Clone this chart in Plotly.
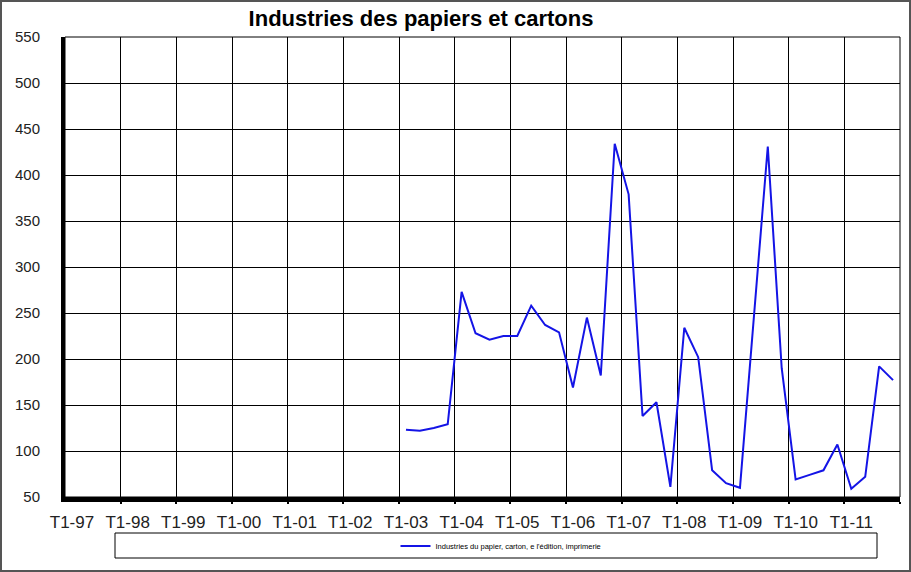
import plotly.graph_objects as go

# Quarter categories T1-97 ... T4-11 (60 quarters)
years = ["97", "98", "99", "00", "01", "02", "03", "04", "05", "06", "07", "08", "09", "10", "11"]
quarters = [f"T{q}-{y}" for y in years for q in range(1, 5)]
tick_labels = [f"T1-{y}" for y in years]

# Series starts at T1-03
start_label = "T1-03"
values = [123, 122, 125, 129, 273, 228, 221, 225, 225, 258, 237, 229,
          169, 245, 182, 434, 379, 138, 153, 61, 234, 202, 79, 65,
          60, 245, 431, 190, 69, 74, 79, 107, 59, 72, 192, 177]
series_name = "Industries du papier, carton, e l'édition, imprimerie"

start = quarters.index(start_label)
x_idx = list(range(start, start + len(values)))
tick_idx = [quarters.index(t) for t in tick_labels]

fig = go.Figure()
fig.add_trace(go.Scatter(x=x_idx, y=values, mode="lines", name=series_name,
                         line=dict(color="#1414E6", width=2),
                         showlegend=True))

W, H = 911, 572
L, R, T, B = 65, 11, 37, 75
pw, ph = W - L - R, H - T - B

def px_to_paper_x(px):
    return (px - L) / pw

def px_to_paper_y(py):
    return (H - B - py) / ph

fig.update_layout(
    width=W, height=H,
    margin=dict(l=L, r=R, t=T, b=B, autoexpand=False),
    paper_bgcolor="white", plot_bgcolor="white",
    title=dict(text="<b>Industries des papiers et cartons</b>",
               x=421 / W, xanchor="center", y=1 - 18 / H, yanchor="middle",
               font=dict(family="Liberation Sans, Arial, sans-serif", size=22, color="black")),
    showlegend=True,
    legend=dict(x=px_to_paper_x(501), xanchor="center", y=px_to_paper_y(546), yanchor="middle",
                bgcolor="rgba(0,0,0,0)", borderwidth=0,
                font=dict(family="Liberation Sans, Arial, sans-serif", size=7.5, color="black")),
    xaxis=dict(range=[-0.5, len(quarters) - 0.5], tickmode="array",
               tickvals=tick_idx, ticktext=tick_labels, showgrid=False,
               ticks="", ticklabelstandoff=6, zeroline=False, automargin=False,
               showline=True, linecolor="black", linewidth=5,
               tickfont=dict(family="Liberation Sans Narrow, Arial Narrow, sans-serif", size=17, color="#222"),
               minor=dict(tickvals=[i + 3.5 for i in range(0, len(quarters), 4)],
                          showgrid=True, gridcolor="black", gridwidth=1,
                          ticks="outside", ticklen=2, tickcolor="black", tickwidth=2)),
    yaxis=dict(range=[50, 550], tickmode="array", tickvals=list(range(50, 551, 50)),
               showgrid=True, gridcolor="black", gridwidth=1, zeroline=False,
               ticks="", ticklabelstandoff=18, automargin=False,
               showline=True, linecolor="black", linewidth=4,
               tickfont=dict(family="Liberation Sans, Arial, sans-serif", size=15, color="#222")),
    shapes=[
        dict(type="rect", xref="paper", yref="paper", x0=0, x1=1, y0=0, y1=1,
             line=dict(color="black", width=1), layer="below"),
        dict(type="rect", xref="paper", yref="paper",
             x0=px_to_paper_x(115), x1=px_to_paper_x(877),
             y0=px_to_paper_y(558), y1=px_to_paper_y(533),
             line=dict(color="black", width=1)),
        dict(type="rect", xref="paper", yref="paper",
             x0=px_to_paper_x(1), x1=px_to_paper_x(910),
             y0=px_to_paper_y(571), y1=px_to_paper_y(1),
             line=dict(color="#555", width=2)),
    ],
)

fig.write_html("out.html", config={"displayModeBar": False},
               post_script="document.body.style.margin='0px';document.body.style.overflow='hidden';")
